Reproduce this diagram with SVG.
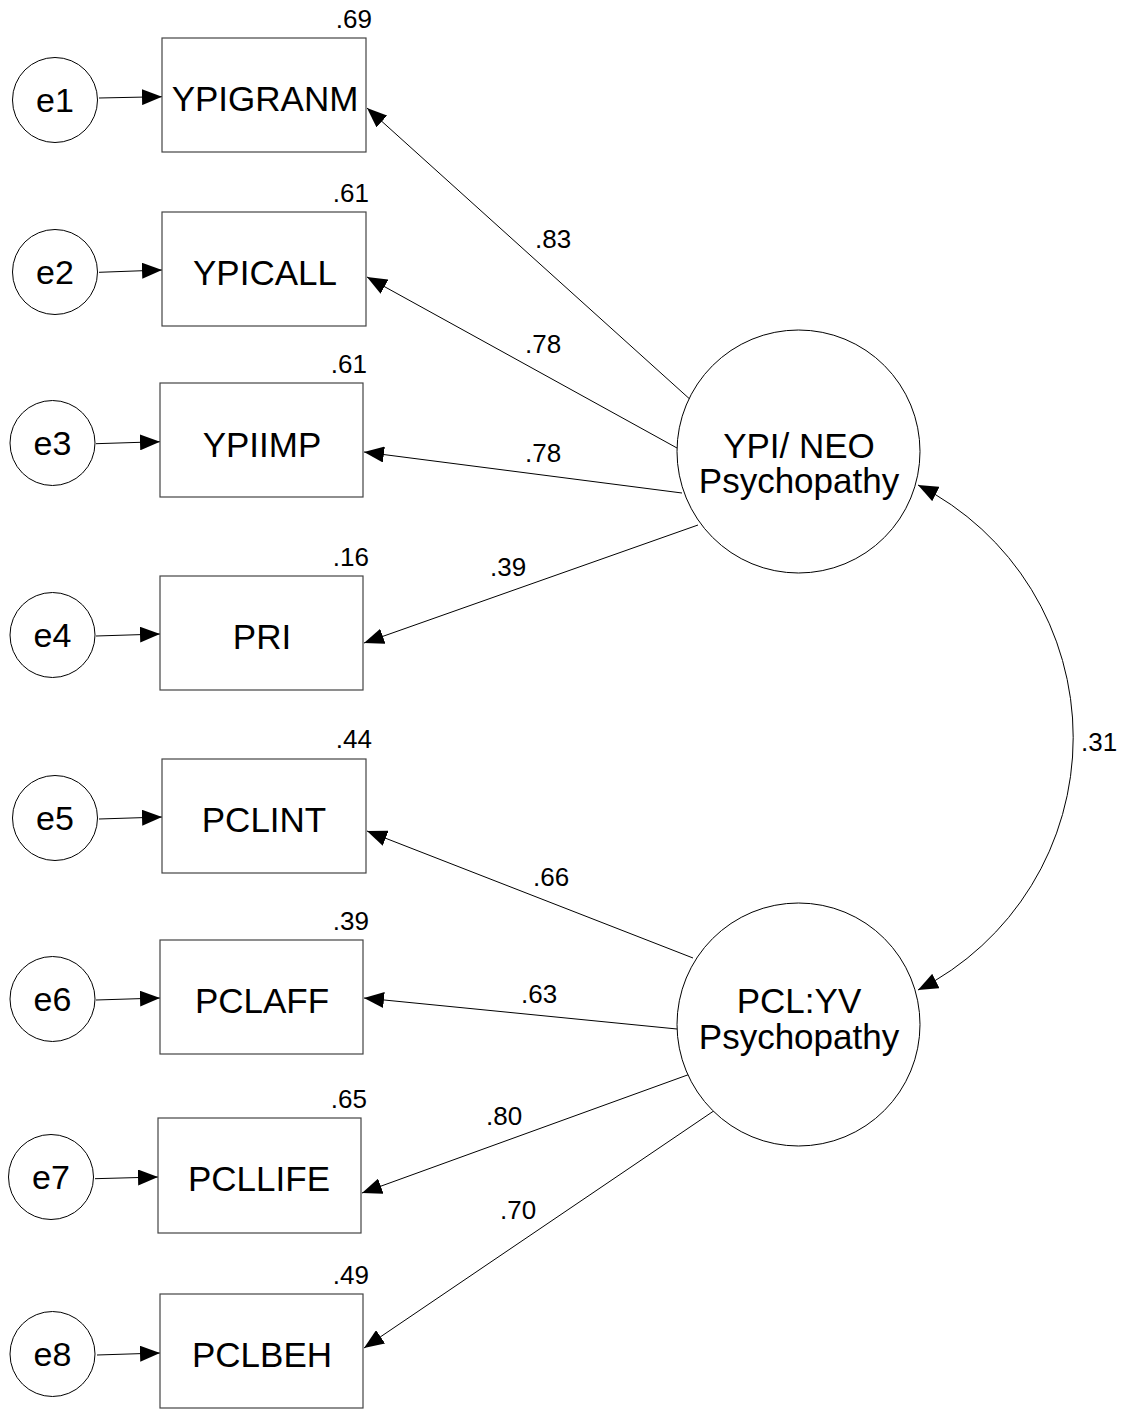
<svg xmlns="http://www.w3.org/2000/svg" width="1127" height="1409" viewBox="0 0 1127 1409">
<style>
.bg{fill:#fff}
.box{fill:#fff;stroke:#444;stroke-width:1.2}
.circ{fill:#fff;stroke:#000;stroke-width:1}
.lbl{font-family:"Liberation Sans",Arial,sans-serif;font-size:35px;fill:#000;text-anchor:middle}
.err{font-family:"Liberation Sans",Arial,sans-serif;font-size:34px;fill:#000;text-anchor:middle}
.num{font-family:"Liberation Sans",Arial,sans-serif;font-size:26px;fill:#000}
.r2{text-anchor:end}
.edge{fill:none;stroke:#000;stroke-width:1;marker-end:url(#ah)}
.cov{fill:none;stroke:#000;stroke-width:1;marker-end:url(#ah);marker-start:url(#ah)}
</style>
<defs>
<marker id="ah" markerUnits="userSpaceOnUse" markerWidth="20" markerHeight="16" viewBox="0 0 20 16" refX="20" refY="8" orient="auto-start-reverse">
<path d="M0,0 L20,8 L0,16 z" fill="#000"/>
</marker>
</defs>
<rect class="bg" x="0" y="0" width="1127" height="1409"/>

<g id="connectors">
<line class="edge" x1="99" y1="98" x2="162" y2="96.7"/>
<line class="edge" x1="99" y1="272.3" x2="162" y2="270"/>
<line class="edge" x1="96" y1="443.7" x2="160" y2="441.7"/>
<line class="edge" x1="96" y1="636" x2="160" y2="634"/>
<line class="edge" x1="99" y1="819" x2="162" y2="817"/>
<line class="edge" x1="96" y1="1000" x2="160" y2="998"/>
<line class="edge" x1="95" y1="1178.7" x2="158" y2="1177"/>
<line class="edge" x1="97" y1="1355" x2="160" y2="1353"/>

<line class="edge" x1="693" y1="402" x2="367" y2="108"/>
<line class="edge" x1="677" y1="448" x2="367" y2="277"/>
<line class="edge" x1="682" y1="493" x2="364" y2="452"/>
<line class="edge" x1="698" y1="525" x2="364" y2="643"/>

<line class="edge" x1="693" y1="958" x2="367" y2="831"/>
<line class="edge" x1="677" y1="1029" x2="364" y2="998"/>
<line class="edge" x1="693" y1="1073" x2="362" y2="1193"/>
<line class="edge" x1="721" y1="1106" x2="364" y2="1348"/>

<path class="cov" d="M918,485 A283,283 0 0 1 918,990"/>

<text class="num" x="535" y="248">.83</text>
<text class="num" x="525" y="353">.78</text>
<text class="num" x="525" y="462">.78</text>
<text class="num" x="490" y="576">.39</text>
<text class="num" x="533" y="886">.66</text>
<text class="num" x="521" y="1003">.63</text>
<text class="num" x="486" y="1125">.80</text>
<text class="num" x="500" y="1219">.70</text>
<text class="num" x="1081" y="751">.31</text>
</g>

<g id="e1"><circle class="circ" cx="55" cy="100" r="42.5"/><text class="err" x="55" y="112">e1</text></g>
<g id="e2"><circle class="circ" cx="55" cy="272" r="42.5"/><text class="err" x="55" y="284">e2</text></g>
<g id="e3"><circle class="circ" cx="52.5" cy="443" r="42.5"/><text class="err" x="52.5" y="455">e3</text></g>
<g id="e4"><circle class="circ" cx="52.5" cy="635" r="42.5"/><text class="err" x="52.5" y="647">e4</text></g>
<g id="e5"><circle class="circ" cx="55" cy="818" r="42.5"/><text class="err" x="55" y="830">e5</text></g>
<g id="e6"><circle class="circ" cx="52.5" cy="999" r="42.5"/><text class="err" x="52.5" y="1011">e6</text></g>
<g id="e7"><circle class="circ" cx="51" cy="1177" r="42.5"/><text class="err" x="51" y="1189">e7</text></g>
<g id="e8"><circle class="circ" cx="52.5" cy="1354" r="42.5"/><text class="err" x="52.5" y="1366">e8</text></g>

<g id="YPIGRANM"><rect class="box" x="162" y="38" width="204" height="114"/><text class="lbl" x="265" y="111">YPIGRANM</text><text class="num r2" x="372" y="28">.69</text></g>
<g id="YPICALL"><rect class="box" x="162" y="212" width="204" height="114"/><text class="lbl" x="265" y="285">YPICALL</text><text class="num r2" x="369" y="202">.61</text></g>
<g id="YPIIMP"><rect class="box" x="160" y="383" width="203" height="114"/><text class="lbl" x="262" y="457">YPIIMP</text><text class="num r2" x="367" y="373">.61</text></g>
<g id="PRI"><rect class="box" x="160" y="576" width="203" height="114"/><text class="lbl" x="262" y="649">PRI</text><text class="num r2" x="369" y="566">.16</text></g>
<g id="PCLINT"><rect class="box" x="162" y="759" width="204" height="114"/><text class="lbl" x="264" y="832">PCLINT</text><text class="num r2" x="372" y="748">.44</text></g>
<g id="PCLAFF"><rect class="box" x="160" y="940" width="203" height="114"/><text class="lbl" x="262" y="1013">PCLAFF</text><text class="num r2" x="369" y="930">.39</text></g>
<g id="PCLLIFE"><rect class="box" x="158" y="1118" width="203" height="115"/><text class="lbl" x="259" y="1191">PCLLIFE</text><text class="num r2" x="367" y="1108">.65</text></g>
<g id="PCLBEH"><rect class="box" x="160" y="1294" width="203" height="114"/><text class="lbl" x="262" y="1367">PCLBEH</text><text class="num r2" x="369" y="1284">.49</text></g>

<g id="YPI_NEO"><circle class="circ" cx="798.5" cy="451.5" r="121.5"/><text class="lbl" x="799" y="458"><tspan x="799" y="458">YPI/ NEO</tspan><tspan x="799" y="493">Psychopathy</tspan></text></g>
<g id="PCL_YV"><circle class="circ" cx="798.5" cy="1024.5" r="121.5"/><text class="lbl" x="799" y="1013"><tspan x="799" y="1013">PCL:YV</tspan><tspan x="799" y="1049">Psychopathy</tspan></text></g>
</svg>
